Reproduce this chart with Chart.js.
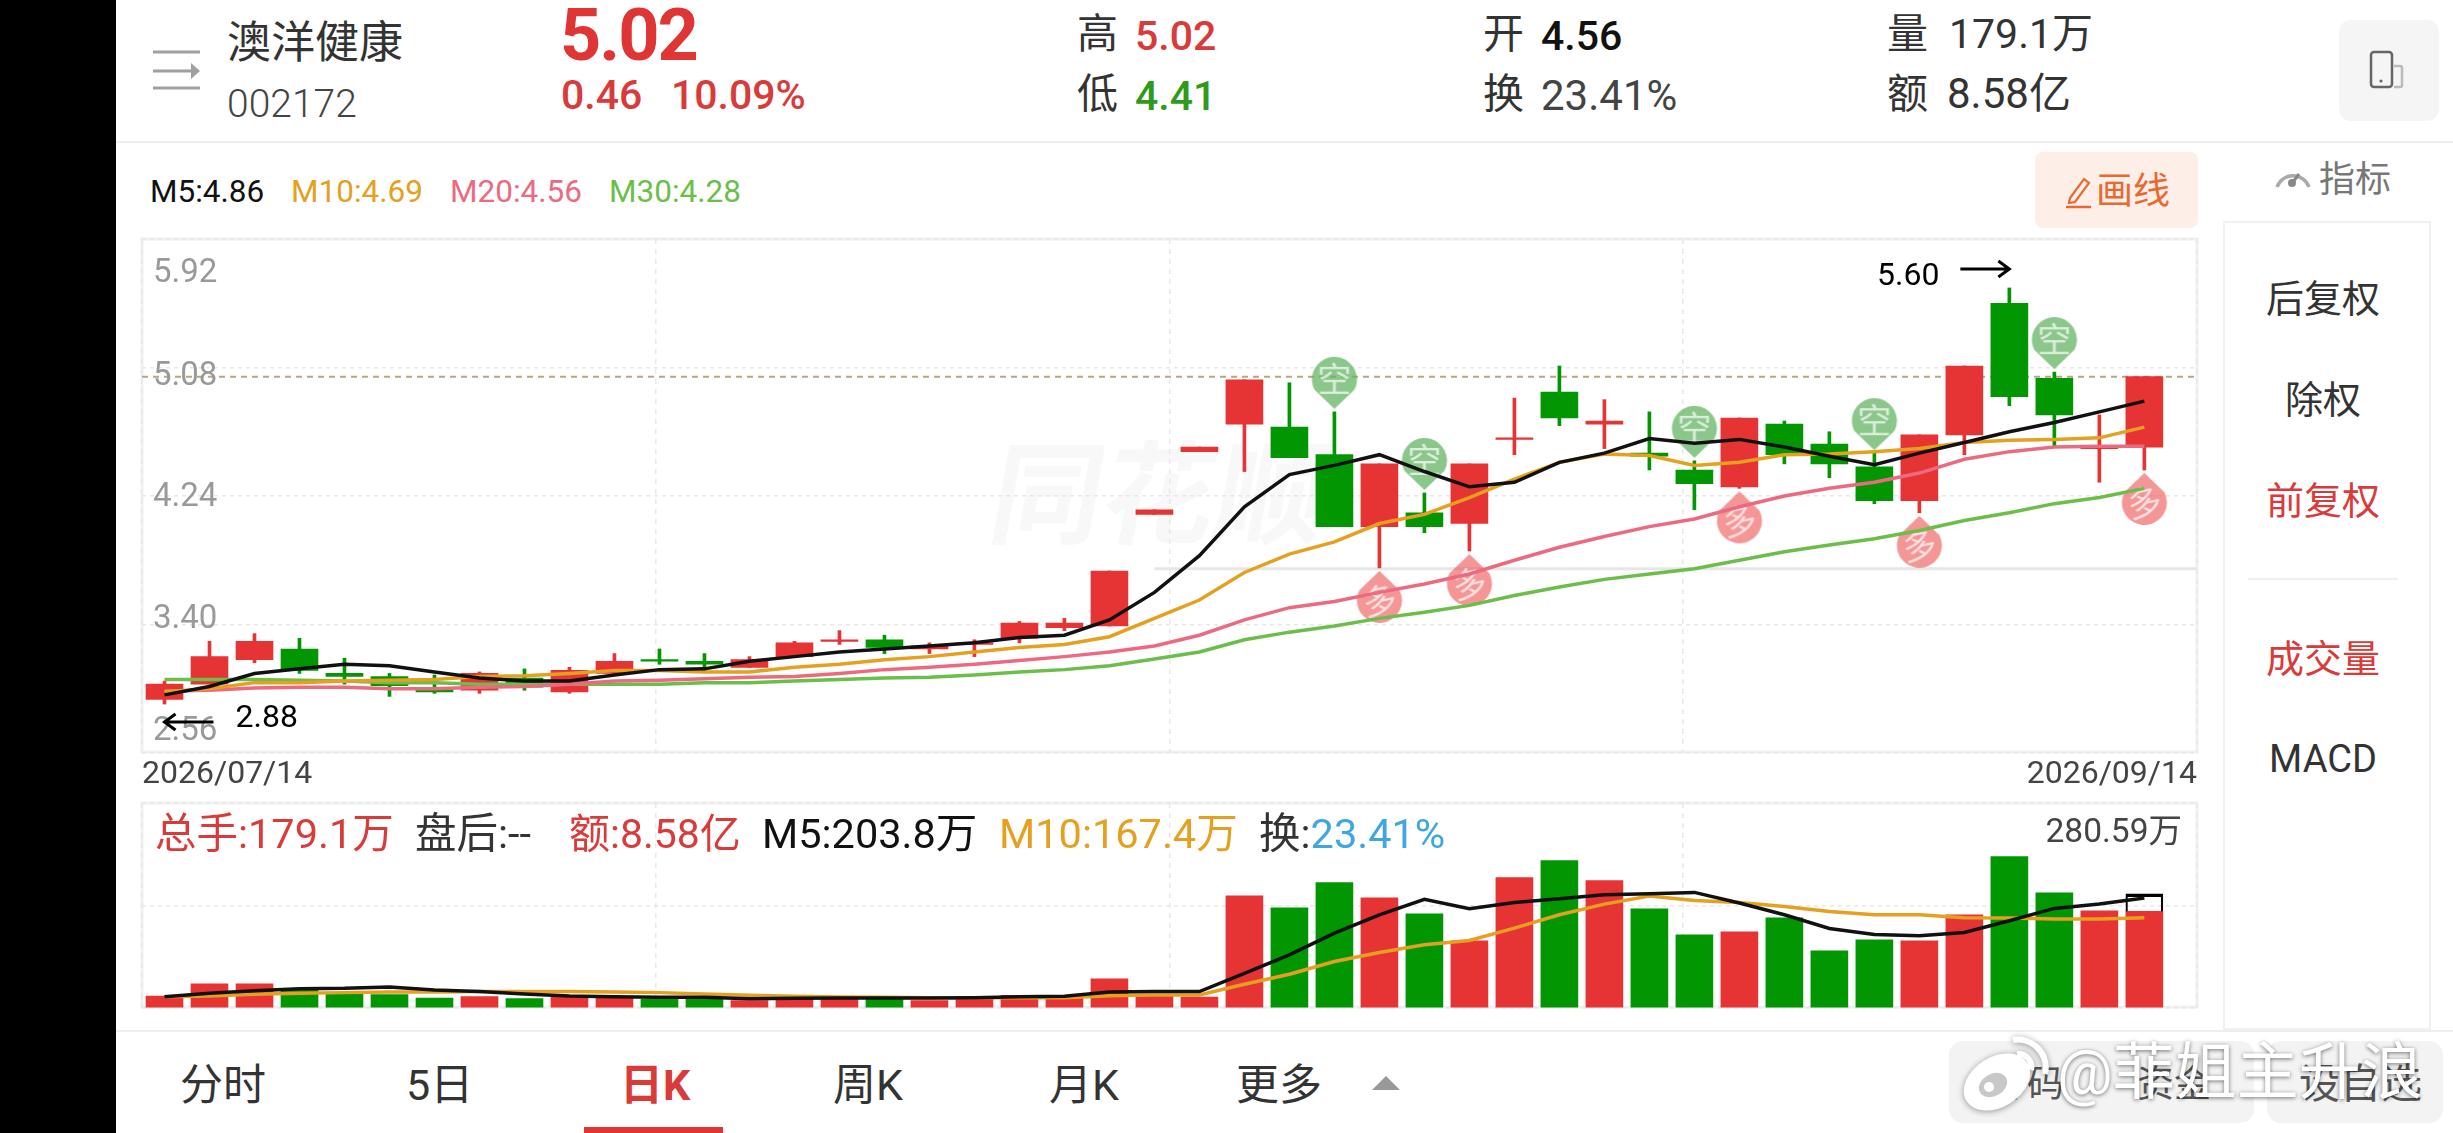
<!DOCTYPE html>
<html>
<head>
<meta charset="utf-8">
<script src="https://cdn.jsdelivr.net/npm/chart.js@4"></script>
<style>
  html, body { margin: 0; background: #fff; }
  body { width: 2453px; height: 1133px; overflow: hidden; position: relative; font-family: Roboto, "Noto Sans CJK SC", sans-serif; color: #333; }
  .t { position: absolute; white-space: nowrap; line-height: 1; transform: translateY(-50%); }
  .c { transform: translate(-50%, -50%); }
  .box { position: absolute; }
  canvas { position: absolute; }
  .red { color: #d93a3a; }
</style>
</head>
<body>
<div class="box" style="left:0;top:0;width:116px;height:1133px;background:#000"></div>

<!-- header -->
<svg class="box" style="left:150px;top:46px" width="54" height="50">
  <path d="M3 6h47M3 25h38M3 42h47" stroke="#a0a0a0" stroke-width="3"/>
  <path d="M41 17l9 8-9 8z" fill="#a0a0a0"/>
</svg>
<span class="t" style="left:227px;top:43px;font-size:44px;color:#333">澳洋健康</span>
<span class="t" style="left:227px;top:104px;font-size:39px;color:#444;font-weight:300">002172</span>
<span class="t" style="left:560px;top:36px;font-size:72px;font-weight:700;color:#e03535;letter-spacing:-2px">5.02</span>
<span class="t red" style="left:561px;top:95px;font-size:41px;font-weight:500">0.46</span>
<span class="t red" style="left:671px;top:95px;font-size:41px;font-weight:500">10.09%</span>
<span class="t" style="left:1077px;top:34px;font-size:41px">高</span>
<span class="t red" style="left:1135px;top:36px;font-size:41px;font-weight:500">5.02</span>
<span class="t" style="left:1077px;top:94px;font-size:41px">低</span>
<span class="t" style="left:1135px;top:96px;font-size:41px;font-weight:500;color:#2f9a1c">4.41</span>
<span class="t" style="left:1483px;top:34px;font-size:41px">开</span>
<span class="t" style="left:1541px;top:36px;font-size:41px;font-weight:500;color:#111">4.56</span>
<span class="t" style="left:1483px;top:94px;font-size:41px">换</span>
<span class="t" style="left:1541px;top:96px;font-size:42px;color:#444">23.41%</span>
<span class="t" style="left:1887px;top:34px;font-size:41px">量</span>
<span class="t" style="left:1949px;top:34px;font-size:41px;color:#333">179.1万</span>
<span class="t" style="left:1887px;top:94px;font-size:41px">额</span>
<span class="t" style="left:1947px;top:94px;font-size:42px;color:#333">8.58亿</span>
<div class="box" style="left:2339px;top:20px;width:100px;height:101px;background:#f5f5f5;border-radius:12px"></div>
<svg class="box" style="left:2366px;top:48px" width="50" height="44">
  <rect x="5" y="4" width="21" height="35" rx="3" fill="none" stroke="#666" stroke-width="2.5"/>
  <circle cx="15" cy="33" r="1.6" fill="#666"/>
  <path d="M28 18h6a2 2 0 0 1 2 2v17a2 2 0 0 1-2 2h-6" fill="none" stroke="#bbb" stroke-width="2.5"/>
</svg>
<div class="box" style="left:116px;top:141px;width:2337px;height:2px;background:#eee"></div>

<!-- MA legend -->
<span class="t" style="left:150px;top:192px;font-size:31.5px;color:#111">M5:4.86</span>
<span class="t" style="left:291px;top:192px;font-size:31.5px;color:#e5a020">M10:4.69</span>
<span class="t" style="left:450px;top:192px;font-size:31.5px;color:#ec6a80">M20:4.56</span>
<span class="t" style="left:609px;top:192px;font-size:31.5px;color:#6cbe4a">M30:4.28</span>

<!-- draw line button -->
<div class="box" style="left:2035px;top:152px;width:163px;height:76px;background:#fdeee8;border-radius:8px"></div>
<svg class="box" style="left:2064px;top:174px" width="30" height="36">
  <path d="M6 24L20 5l5 4L11 28l-6 1z" fill="none" stroke="#e8692f" stroke-width="2.2"/>
  <path d="M2 33h25" stroke="#e8692f" stroke-width="2.5"/>
</svg>
<span class="t" style="left:2096px;top:191px;font-size:37px;color:#e8692f">画线</span>

<!-- right panel -->
<svg class="box" style="left:2272px;top:160px" width="42" height="34">
  <path d="M5 27A17 17 0 0 1 37 27" fill="none" stroke="#aaa" stroke-width="3.5"/>
  <path d="M21 22l6-8" stroke="#888" stroke-width="3"/>
  <circle cx="20" cy="23" r="4" fill="#888"/>
</svg>
<span class="t" style="left:2319px;top:180px;font-size:36px;color:#777">指标</span>
<div class="box" style="left:2223px;top:221px;width:208px;height:809px;border:2px solid #f0f0f0;border-bottom-width:2px;box-sizing:border-box"></div>
<span class="t c" style="left:2323px;top:299px;font-size:38px">后复权</span>
<span class="t c" style="left:2323px;top:400px;font-size:38px">除权</span>
<span class="t c red" style="left:2323px;top:501px;font-size:38px">前复权</span>
<div class="box" style="left:2248px;top:578px;width:150px;height:2px;background:#f0f0f0"></div>
<span class="t c red" style="left:2323px;top:659px;font-size:38px">成交量</span>
<span class="t c" style="left:2323px;top:759px;font-size:38px">MACD</span>

<!-- watermark under the charts -->
<span class="t" style="left:992px;top:497px;font-size:112px;font-weight:700;color:#f8f8f8;transform:translateY(-50%) skewX(-10deg)">同花顺</span>

<canvas id="priceChart" width="2080" height="570" style="left:130px;top:225px"></canvas>
<canvas id="volChart" width="2080" height="225" style="left:130px;top:790px"></canvas>

<!-- volume legend -->
<span class="t red" style="left:155px;top:834px;font-size:41.5px">总手:179.1万</span>
<span class="t" style="left:415px;top:834px;font-size:41.5px">盘后:--</span>
<span class="t red" style="left:569px;top:834px;font-size:41px">额:8.58亿</span>
<span class="t" style="left:762px;top:834px;font-size:41.5px;color:#111">M5:203.8万</span>
<span class="t" style="left:999px;top:834px;font-size:41.5px;color:#e5a020">M10:167.4万</span>
<span class="t" style="left:1259px;top:834px;font-size:41.5px">换:<span style="color:#3ea6e0">23.41%</span></span>
<span class="t" style="right:271px;top:831px;font-size:33.5px;color:#444">280.59万</span>

<!-- bottom tabs -->
<div class="box" style="left:116px;top:1030px;width:2337px;height:2px;background:#eee"></div>
<span class="t" style="left:180px;top:1085px;font-size:43px">分时</span>
<span class="t" style="left:406px;top:1085px;font-size:43px">5日</span>
<span class="t red" style="left:620px;top:1085px;font-size:43px;font-weight:700">日K</span>
<span class="t" style="left:833px;top:1085px;font-size:43px">周K</span>
<span class="t" style="left:1049px;top:1085px;font-size:43px">月K</span>
<span class="t" style="left:1236px;top:1085px;font-size:43px">更多</span>
<svg class="box" style="left:1372px;top:1076px" width="28" height="14"><path d="M14 0L28 14H0z" fill="#999"/></svg>
<div class="box" style="left:584px;top:1127px;width:139px;height:6px;background:#e03535"></div>
<div class="box" style="left:1949px;top:1041px;width:305px;height:82px;background:#f3f3f3;border-radius:14px"></div>
<div class="box" style="left:2267px;top:1041px;width:176px;height:82px;background:#f3f3f3;border-radius:14px"></div>
<span class="t" style="left:1990px;top:1084px;font-size:37px;color:#555">筹码</span>
<span class="t" style="left:2137px;top:1084px;font-size:37px;color:#555">资金</span>
<span class="t" style="left:2299px;top:1084px;font-size:41px;color:#555">设自选</span>

<!-- weibo mark -->
<svg class="box" style="left:1955px;top:1030px;overflow:visible" width="100" height="85">
  <g style="filter:drop-shadow(0 1px 3px rgba(0,0,0,.4))">
    <ellipse cx="42" cy="52" rx="36" ry="25" transform="rotate(-32 42 52)" fill="#fff"/>
    <ellipse cx="38" cy="55" rx="15" ry="11" transform="rotate(-30 38 55)" fill="#c8c8c8"/>
    <circle cx="34" cy="57" r="5" fill="#fff"/>
    <path d="M58 10A28 28 0 0 1 90 44M62 24A13 13 0 0 1 76 40" fill="none" stroke="#fff" stroke-width="6"/>
  </g>
</svg>
<span class="t" style="left:2057px;top:1073px;font-size:62px;color:#fff;text-shadow:0 1px 4px rgba(0,0,0,.55)">@菲姐主升浪</span>

<script>
const opens = [2.91,3.01,3.17,3.24,3.08,3.06,2.97,2.97,3.05,2.96,3.08,3.17,3.16,3.12,3.19,3.29,3.30,3.24,3.27,3.31,3.38,3.39,4.12,4.53,4.71,4.69,4.51,4.04,4.13,4.06,4.61,4.92,4.71,4.52,4.41,4.30,4.71,4.58,4.43,4.21,4.64,5.50,5.01,4.55,4.56];
const highs = [3.03,3.29,3.34,3.31,3.18,3.08,3.07,3.09,3.11,3.12,3.21,3.24,3.21,3.19,3.29,3.36,3.33,3.28,3.30,3.42,3.44,3.75,4.15,4.56,5.00,4.98,4.79,4.45,4.26,4.45,4.88,5.09,4.87,4.79,4.47,4.75,4.73,4.66,4.52,4.64,5.09,5.60,5.05,4.77,5.02];
const lows = [2.88,3.01,3.15,3.08,3.01,2.93,2.95,2.95,2.97,2.95,3.07,3.14,3.10,3.12,3.19,3.27,3.21,3.21,3.19,3.28,3.36,3.39,4.12,4.53,4.40,4.49,4.04,3.77,4.00,3.88,4.51,4.70,4.55,4.41,4.15,4.29,4.45,4.36,4.19,4.13,4.51,4.83,4.57,4.33,4.41];
const closes = [3.01,3.19,3.29,3.10,3.06,3.00,2.96,3.08,2.99,3.10,3.16,3.16,3.14,3.17,3.28,3.30,3.25,3.26,3.28,3.41,3.41,3.75,4.15,4.56,5.00,4.49,4.04,4.45,4.04,4.45,4.62,4.75,4.73,4.50,4.32,4.75,4.51,4.45,4.21,4.64,5.09,4.89,4.77,4.57,5.02];

const ma5 = [2.94,2.995,3.08,3.11,3.14,3.13,3.09,3.05,3.03,3.03,3.07,3.105,3.11,3.16,3.19,3.22,3.24,3.26,3.28,3.315,3.33,3.43,3.61,3.85,4.17,4.38,4.44,4.51,4.40,4.30,4.33,4.46,4.52,4.615,4.585,4.61,4.56,4.50,4.445,4.52,4.59,4.66,4.72,4.79,4.86];
const ma10 = [2.96,2.98,3.02,3.02,3.03,3.035,3.04,3.06,3.065,3.08,3.10,3.10,3.09,3.09,3.12,3.14,3.17,3.19,3.22,3.25,3.27,3.32,3.44,3.56,3.74,3.86,3.94,4.06,4.12,4.23,4.35,4.46,4.515,4.505,4.44,4.46,4.51,4.515,4.53,4.55,4.59,4.605,4.61,4.62,4.69];
const ma20 = [2.965,2.97,2.985,2.99,2.99,2.98,2.98,2.99,2.995,3.01,3.03,3.035,3.045,3.055,3.06,3.08,3.105,3.12,3.14,3.165,3.19,3.22,3.26,3.33,3.43,3.51,3.55,3.61,3.665,3.73,3.82,3.905,3.975,4.04,4.09,4.17,4.24,4.29,4.33,4.39,4.48,4.53,4.56,4.565,4.565];
const ma30 = [3.04,3.04,3.04,3.035,3.03,3.02,3.02,3.01,3.01,3.01,3.01,3.01,3.02,3.02,3.03,3.04,3.05,3.055,3.07,3.09,3.105,3.13,3.175,3.22,3.30,3.35,3.39,3.44,3.48,3.525,3.59,3.645,3.695,3.73,3.765,3.82,3.875,3.92,3.96,4.015,4.08,4.13,4.19,4.23,4.29];

const volumes = [22.3,44.6,44.6,34.7,26,24.8,18.6,21,17.3,19.8,18.6,16.1,16.1,13.6,16.1,16.1,16.1,13.6,17.3,23.5,22.3,53.9,22.3,20.4,208.1,185.8,232.3,204.4,174.7,124.5,241.6,273.2,236,184,135.6,141.2,167.2,105.9,126.4,124.5,172.8,280.59,213.7,180.2,179.1];
const volMa5 = [21,27.3,32.2,35.9,36.5,39,33.4,30.4,26,22.3,21,19.8,19.8,17.3,18,18.6,18.6,18.6,19.2,21,21.7,29.7,30.4,30.4,64.4,98.5,138.7,172.8,201.3,184,195.7,202.5,210,211.8,214.3,194.5,172.8,147.4,136.3,133.8,140,161.7,184.6,192.6,203.8];
const volMa10 = [21,22.3,25.4,27.3,28.5,29.7,29.7,30.4,30.4,30.4,29.7,28.5,26,23.5,21.7,20.4,19.8,19.2,19.2,19.2,19.2,22.9,24.2,24.2,44,62.6,86.1,102.8,117.1,125.1,148,172.8,192.6,207.5,199.4,195.7,188.3,179,172.8,172.8,167.2,166.6,164.8,164.8,167.4];
const volEstimate = 211.8;

const priceTicks = [2.56, 3.40, 4.24, 5.08, 5.92];
const volTicks = [0, 190, 380];
const dateLabels = ['2026/07/14', '2026/09/14'];
const sellSignals = [26, 28, 34, 38, 42];
const buySignals = [27, 29, 35, 39, 44];
const guideLevel = 3.765;
const guideStart = 22;

// x runs past the last candle, the app leaves a gap on the right
const xMin = -0.5;
const xMax = 45.17;
const xTicks = [0, 1, 2, 3, 4].map(k => xMin + (xMax - xMin) * k / 4);

const red = '#e63333';
const green = '#039603';
const candleColors = opens.map((o, i) => closes[i] >= o ? red : green);
const lineFont = 'Roboto, "Noto Sans CJK SC", sans-serif';

const pts = arr => arr.map((y, x) => ({x, y}));

function line(data, color, order, extra) {
  return Object.assign({
    type: 'line', data, borderColor: color, borderWidth: 3.5,
    pointRadius: 0, tension: 0, order
  }, extra);
}

// teardrop badge, tip sits in the middle of the canvas so the point lands on the tip
function makeBadge(label, fill, tipDown) {
  const w = 50, h = 116, r = 22.5;
  const c = document.createElement('canvas');
  c.width = w; c.height = h;
  const ctx = c.getContext('2d');
  const tipY = tipDown ? h / 2 - 3 : h / 2 + 3;
  const cy = tipDown ? tipY - 52 + r : tipY + 52 - r;
  ctx.fillStyle = fill;
  ctx.beginPath();
  if (tipDown) ctx.arc(w / 2, cy, r, Math.PI * 0.85, Math.PI * 0.15);
  else ctx.arc(w / 2, cy, r, Math.PI * 0.15 + Math.PI, Math.PI * 0.85 + Math.PI, true);
  ctx.lineTo(w / 2, tipY);
  ctx.closePath();
  ctx.fill();
  ctx.fillStyle = 'rgba(255,255,255,0.7)';
  ctx.font = '34px "Noto Sans CJK SC"';
  ctx.textAlign = 'center';
  ctx.textBaseline = 'middle';
  ctx.save();
  ctx.translate(w / 2, cy);
  if (!tipDown) ctx.rotate(-0.2);
  ctx.fillText(label, 0, 0);
  ctx.restore();
  return c;
}

// light frame round the plot
const framePlugin = {
  id: 'frame',
  beforeDraw(chart) {
    const {left, right, top, bottom} = chart.chartArea;
    const ctx = chart.ctx;
    ctx.save();
    ctx.strokeStyle = '#f0f0f0';
    ctx.lineWidth = 3;
    ctx.strokeRect(left, top, right - left, bottom - top - 1);
    ctx.restore();
  }
};

// the app pushes the outer y labels inwards so they stay in the plot
const labelNudge = [-21, -5, 2, 9, 35];
const priceLabels = {
  id: 'priceLabels',
  afterDraw(chart) {
    const s = chart.scales.y;
    const ctx = chart.ctx;
    ctx.save();
    ctx.font = '33px ' + lineFont;
    ctx.fillStyle = '#999';
    ctx.textBaseline = 'middle';
    s.ticks.forEach((t, i) => {
      ctx.fillText(t.value.toFixed(2), chart.chartArea.left + 11, s.getPixelForValue(t.value) + labelNudge[i]);
    });
    ctx.restore();
  }
};

// high and low notes with arrows
const extremes = {
  id: 'extremes',
  afterDraw(chart) {
    const {x, y} = chart.scales;
    const ctx = chart.ctx;
    const hi = highs.indexOf(Math.max(...highs));
    const lo = lows.indexOf(Math.min(...lows));
    ctx.save();
    ctx.font = '32px ' + lineFont;
    ctx.fillStyle = '#000';
    ctx.strokeStyle = '#000';
    ctx.lineWidth = 3;
    ctx.textBaseline = 'middle';

    let px = x.getPixelForValue(hi), py = y.getPixelForValue(highs[hi]) - 19;
    ctx.beginPath();
    ctx.moveTo(px - 49, py); ctx.lineTo(px, py);
    ctx.moveTo(px - 11, py - 8); ctx.lineTo(px, py); ctx.lineTo(px - 11, py + 8);
    ctx.stroke();
    ctx.textAlign = 'right';
    ctx.fillText(highs[hi].toFixed(2), px - 70, py + 8);

    px = x.getPixelForValue(lo); py = y.getPixelForValue(lows[lo]) + 18;
    ctx.beginPath();
    ctx.moveTo(px + 49, py); ctx.lineTo(px, py);
    ctx.moveTo(px + 11, py - 8); ctx.lineTo(px, py); ctx.lineTo(px + 11, py + 8);
    ctx.stroke();
    ctx.textAlign = 'left';
    ctx.fillText(lows[lo].toFixed(2), px + 71, py - 3);
    ctx.restore();
  }
};

const gridStyle = {color: '#e8e8e8', lineWidth: 1.5, tickLength: 0, offset: false};
const dash = {display: false};

const priceConfig = {
  data: {
    datasets: [
      line(pts(ma5), '#111', 1),
      line(pts(ma10), '#e5a020', 2),
      line(pts(ma20), '#ec6a80', 3),
      line(pts(ma30), '#6cbe4a', 4),
      {
        type: 'scatter', order: 5,
        data: sellSignals.map(i => ({x: i, y: highs[i]})),
        pointStyle: makeBadge('空', 'rgba(100,180,100,0.75)', true),
        pointRadius: 10
      },
      {
        type: 'scatter', order: 5,
        data: buySignals.map(i => ({x: i, y: lows[i]})),
        pointStyle: makeBadge('多', 'rgba(238,85,85,0.62)', false),
        pointRadius: 10
      },
      {
        type: 'bar', order: 6, grouped: false, barThickness: 37,
        data: opens.map((o, i) => ({x: i, y: [o, closes[i]]})),
        backgroundColor: candleColors
      },
      {
        type: 'bar', order: 7, grouped: false, barThickness: 3,
        data: lows.map((l, i) => ({x: i, y: [l, highs[i]]})),
        backgroundColor: candleColors
      },
      line([{x: xMin, y: closes[closes.length - 1]}, {x: xMax, y: closes[closes.length - 1]}], '#b9a67e', 8, {borderWidth: 2, borderDash: [6, 5]}),
      line([{x: guideStart, y: guideLevel}, {x: xMax, y: guideLevel}], '#e6e6e6', 9, {borderWidth: 3})
    ]
  },
  options: {
    responsive: false,
    animation: false,
    events: [],
    layout: {padding: {left: 12, right: 13, top: 14, bottom: 0}},
    plugins: {legend: dash, tooltip: {enabled: false}},
    scales: {
      x: {
        type: 'linear', min: xMin, max: xMax, offset: false,
        afterBuildTicks: s => { s.ticks = xTicks.map(value => ({value})); },
        afterFit: s => { s.height = 42; },
        border: {display: false, dash: [5, 5]},
        grid: gridStyle,
        ticks: {
          autoSkip: false, maxRotation: 0, align: 'inner', padding: 3,
          color: '#444', font: {size: 32, family: lineFont},
          callback: (v, i) => i === 0 ? dateLabels[0] : (i === 4 ? dateLabels[1] : '')
        }
      },
      y: {
        min: priceTicks[0], max: priceTicks[priceTicks.length - 1],
        afterBuildTicks: s => { s.ticks = priceTicks.map(value => ({value})); },
        afterFit: s => { s.width = 0; },
        border: {display: false, dash: [4, 4]},
        grid: gridStyle,
        ticks: {display: false}
      }
    }
  },
  plugins: [framePlugin, priceLabels, extremes]
};

const volConfig = {
  data: {
    datasets: [
      line(pts(volMa5), '#111', 1),
      line(pts(volMa10), '#e5a020', 2),
      {
        type: 'bar', order: 3, grouped: false, barThickness: 37,
        data: [{x: volumes.length - 1, y: [volumes[volumes.length - 1], volEstimate]}],
        backgroundColor: 'rgba(0,0,0,0)',
        borderColor: '#000',
        borderWidth: {top: 3, left: 1.5, right: 1.5, bottom: 0},
        borderSkipped: false
      },
      {
        type: 'bar', order: 4, grouped: false, barThickness: 37,
        data: pts(volumes),
        backgroundColor: candleColors
      }
    ]
  },
  options: {
    responsive: false,
    animation: false,
    events: [],
    layout: {padding: {left: 12, right: 13, top: 13, bottom: 7}},
    plugins: {legend: dash, tooltip: {enabled: false}},
    scales: {
      x: {
        type: 'linear', min: xMin, max: xMax, offset: false,
        afterBuildTicks: s => { s.ticks = xTicks.map(value => ({value})); },
        afterFit: s => { s.height = 0; },
        border: {display: false, dash: [5, 5]},
        grid: gridStyle,
        ticks: {display: false}
      },
      y: {
        min: volTicks[0], max: volTicks[2],
        afterBuildTicks: s => { s.ticks = volTicks.map(value => ({value})); },
        afterFit: s => { s.width = 0; },
        border: {display: false, dash: [4, 4]},
        grid: gridStyle,
        ticks: {display: false}
      }
    }
  },
  plugins: [framePlugin]
};

const priceChart = new Chart(document.getElementById('priceChart'), priceConfig);
const volChart = new Chart(document.getElementById('volChart'), volConfig);
</script>
</body>
</html>
